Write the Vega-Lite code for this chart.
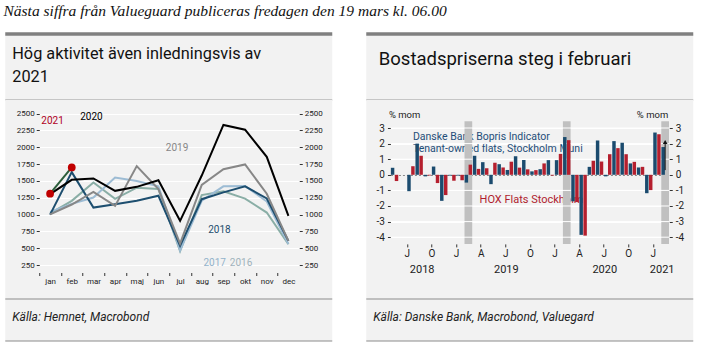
{
  "$schema": "https://vega.github.io/schema/vega-lite/v6.json",
  "background": "white",
  "padding": {"left": 3.25, "top": 4, "right": 5, "bottom": 5},
  "title": {"text": "Nästa siffra från Valueguard publiceras fredagen den 19 mars kl. 06.00", "anchor": "start", "frame": "bounds", "font": "Liberation Serif", "fontStyle": "italic", "fontWeight": "normal", "fontSize": 15.5, "color": "#111111", "offset": 12.5},
  "spacing": 30,
  "resolve": {"scale": {"color": "independent"}},
  "hconcat": [
    {
      "vconcat": [
        {
          "width": 327, "height": 66,
          "data": {"values": [{}]},
          "layer": [
            {"mark": {"type": "rule", "color": "#808080", "strokeWidth": 3.5}, "encoding": {"y": {"datum": 1, "type": "quantitative", "scale": {"domain": [0, 1]}, "axis": null}}},
            {"mark": {"type": "rule", "color": "#9a9a9a", "strokeWidth": 1}, "encoding": {"y": {"datum": 0, "type": "quantitative", "axis": null}}},
            {"mark": {"type": "text", "align": "left", "baseline": "alphabetic", "fontSize": 16.3, "lineHeight": 23, "color": "#111111", "dx": 7},
             "encoding": {"x": {"datum": 0, "type": "quantitative", "scale": {"domain": [0, 1]}, "axis": null}, "y": {"datum": 0.62, "type": "quantitative", "axis": null}, "text": {"value": ["Hög aktivitet även inledningsvis av", "2021"]}}}
          ]
        },
        {
          "width": 327, "height": 199,
          "data": {"values": [
            {"month": "jan", "2016": 1020, "2017": 1040, "2018": 1000, "2019": 1005, "2020": 1303, "2021": 1310},
            {"month": "feb", "2016": 1205, "2017": 1160, "2018": 1630, "2019": 1150, "2020": 1516, "2021": 1700},
            {"month": "mar", "2016": 1476, "2017": 1254, "2018": 1105, "2019": 1338, "2020": 1536},
            {"month": "apr", "2016": 1235, "2017": 1550, "2018": 1155, "2019": 1130, "2020": 1353},
            {"month": "maj", "2016": 1400, "2017": 1500, "2018": 1205, "2019": 1720, "2020": 1412},
            {"month": "jun", "2016": 1380, "2017": 1420, "2018": 1280, "2019": 1380, "2020": 1511},
            {"month": "jul", "2016": 460, "2017": 470, "2018": 537, "2019": 570, "2020": 908},
            {"month": "aug", "2016": 1290, "2017": 1206, "2018": 1229, "2019": 1442, "2020": 1580},
            {"month": "sep", "2016": 1345, "2017": 1420, "2018": 1330, "2019": 1674, "2020": 2330},
            {"month": "okt", "2016": 1237, "2017": 1425, "2018": 1420, "2019": 1745, "2020": 2260},
            {"month": "nov", "2016": 1031, "2017": 1194, "2018": 1240, "2019": 1310, "2020": 1857},
            {"month": "dec", "2016": 560, "2017": 565, "2018": 611, "2019": 610, "2020": 982}
          ]},
          "transform": [{"fold": ["2016", "2017", "2018", "2019", "2020", "2021"], "as": ["year", "value"]}],
          "resolve": {"axis": {"x": "independent", "y": "independent"}},
          "layer": [
            {
              "mark": {"type": "line", "strokeWidth": 2},
              "encoding": {
                "x": {"field": "month", "type": "ordinal", "scale": {"domain": ["jan", "feb", "mar", "apr", "maj", "jun", "jul", "aug", "sep", "okt", "nov", "dec"], "range": [34, 294], "paddingInner": 0, "paddingOuter": 0},
                      "axis": {"orient": "bottom", "offset": -26.5, "tickOffset": -10.83, "labelOffset": 10.83, "tickSize": 3, "labelPadding": 2, "labelFontSize": 8, "labelAngle": 0, "labelOverlap": false, "domain": false, "grid": false, "title": null}},
                "y": {"field": "value", "type": "quantitative", "scale": {"domain": [250, 2500], "range": [165.2, 13.5], "nice": false, "zero": false},
                      "axis": {"orient": "left", "offset": -34, "values": [250, 500, 750, 1000, 1250, 1500, 1750, 2000, 2250, 2500], "format": "d", "tickSize": 3, "labelPadding": 2, "labelFontSize": 8, "grid": true, "gridColor": "#ffffff", "gridWidth": 1, "domain": false, "title": null}},
                "color": {"field": "year", "type": "nominal", "scale": {"domain": ["2016", "2017", "2018", "2019", "2020", "2021"], "range": ["#8aaea6", "#9dbcd4", "#1d4e6f", "#878787", "#000000", "#2c5e3b"]}, "legend": null}
              }
            },
            {
              "transform": [{"filter": "datum.year === '2021' && isValid(datum.value)"}],
              "mark": {"type": "point", "filled": true, "size": 60, "color": "#c00000", "opacity": 1},
              "encoding": {
                "x": {"field": "month", "type": "ordinal", "axis": null},
                "y": {"field": "value", "type": "quantitative",
                      "axis": {"orient": "right", "offset": -33, "values": [250, 500, 750, 1000, 1250, 1500, 1750, 2000, 2250, 2500], "format": "d", "tickSize": 3, "labelPadding": 2, "labelFontSize": 8, "grid": false, "domain": false, "title": null}}
              }
            },
            {"data": {"values": [{}]}, "mark": {"type": "text", "fontSize": 10, "color": "#b0001e", "dx": 2.5}, "encoding": {"x": {"datum": "jan", "type": "ordinal", "axis": null}, "y": {"datum": 2396, "type": "quantitative", "axis": null}, "text": {"value": "2021"}}},
            {"data": {"values": [{}]}, "mark": {"type": "text", "fontSize": 10, "color": "#000000", "dx": -2}, "encoding": {"x": {"datum": "mar", "type": "ordinal", "axis": null}, "y": {"datum": 2455, "type": "quantitative", "axis": null}, "text": {"value": "2020"}}},
            {"data": {"values": [{}]}, "mark": {"type": "text", "fontSize": 10, "color": "#878787", "dx": -3}, "encoding": {"x": {"datum": "jul", "type": "ordinal", "axis": null}, "y": {"datum": 1988, "type": "quantitative", "axis": null}, "text": {"value": "2019"}}},
            {"data": {"values": [{}]}, "mark": {"type": "text", "fontSize": 10, "color": "#1d4e6f", "dx": -4}, "encoding": {"x": {"datum": "sep", "type": "ordinal", "axis": null}, "y": {"datum": 774, "type": "quantitative", "axis": null}, "text": {"value": "2018"}}},
            {"data": {"values": [{}]}, "mark": {"type": "text", "fontSize": 10, "color": "#93b3cb", "dx": -8.7}, "encoding": {"x": {"datum": "sep", "type": "ordinal", "axis": null}, "y": {"datum": 289, "type": "quantitative", "axis": null}, "text": {"value": "2017"}}},
            {"data": {"values": [{}]}, "mark": {"type": "text", "fontSize": 10, "color": "#a0b2bc", "dx": -4}, "encoding": {"x": {"datum": "okt", "type": "ordinal", "axis": null}, "y": {"datum": 289, "type": "quantitative", "axis": null}, "text": {"value": "2016"}}}
          ]
        },
        {
          "width": 327, "height": 42,
          "data": {"values": [{}]},
          "layer": [
            {"mark": {"type": "rule", "color": "#8c8c8c", "strokeWidth": 1}, "encoding": {"y": {"datum": 1, "type": "quantitative", "scale": {"domain": [0, 1]}, "axis": null}}},
            {"mark": {"type": "rule", "color": "#8c8c8c", "strokeWidth": 1}, "encoding": {"y": {"datum": 0, "type": "quantitative", "axis": null}}},
            {"mark": {"type": "text", "align": "left", "baseline": "middle", "fontSize": 12, "fontStyle": "italic", "color": "#222222", "dx": 7},
             "encoding": {"x": {"datum": 0, "type": "quantitative", "scale": {"domain": [0, 1]}, "axis": null}, "y": {"datum": 0.56, "type": "quantitative", "axis": null}, "text": {"value": "Källa: Hemnet, Macrobond"}}}
          ]
        }
      ],
      "spacing": 0,
      "bounds": "flush"
    },
    {
      "vconcat": [
        {
          "width": 327, "height": 66,
          "data": {"values": [{}]},
          "layer": [
            {"mark": {"type": "rule", "color": "#808080", "strokeWidth": 3.5}, "encoding": {"y": {"datum": 1, "type": "quantitative", "scale": {"domain": [0, 1]}, "axis": null}}},
            {"mark": {"type": "rule", "color": "#9a9a9a", "strokeWidth": 1}, "encoding": {"y": {"datum": 0, "type": "quantitative", "axis": null}}},
            {"mark": {"type": "text", "align": "left", "baseline": "alphabetic", "fontSize": 18.5, "color": "#111111", "dx": 12.5},
             "encoding": {"x": {"datum": 0, "type": "quantitative", "scale": {"domain": [0, 1]}, "axis": null}, "y": {"datum": 0.53, "type": "quantitative", "axis": null}, "text": {"value": "Bostadspriserna steg i februari"}}}
          ]
        },
        {
          "width": 327, "height": 199,
          "resolve": {"axis": {"x": "independent", "y": "independent"}},
          "layer": [
            {"data": {"values": [{}]}, "mark": {"type": "text", "align": "left", "baseline": "middle", "fontSize": 10.5, "lineHeight": 11.5, "color": "#1f4e79", "dx": 2},
             "encoding": {"x": {"datum": "2018-07", "type": "ordinal", "axis": null}, "y": {"datum": 2.41, "type": "quantitative", "axis": null}, "text": {"value": ["Danske Bank Bopris Indicator", "Tenant-owned flats, Stockholm Muni"]}}},
            {"data": {"values": [{}]}, "mark": {"type": "text", "align": "left", "baseline": "middle", "fontSize": 11, "color": "#b01c2e", "dx": 3},
             "encoding": {"x": {"datum": "2019-03", "type": "ordinal", "axis": null}, "y": {"datum": -1.62, "type": "quantitative", "axis": null}, "text": {"value": "HOX Flats Stockholm"}}},
            {
              "data": {"values": [{"month": "2019-02"}, {"month": "2020-02"}, {"month": "2021-02"}]},
              "mark": {"type": "bar", "color": "#c0c0c0"},
              "encoding": {
                "x": {"field": "month", "type": "ordinal",
                      "scale": {"domain": ["2018-05","2018-06","2018-07","2018-08","2018-09","2018-10","2018-11","2018-12","2019-01","2019-02","2019-03","2019-04","2019-05","2019-06","2019-07","2019-08","2019-09","2019-10","2019-11","2019-12","2020-01","2020-02","2020-03","2020-04","2020-05","2020-06","2020-07","2020-08","2020-09","2020-10","2020-11","2020-12","2021-01","2021-02"], "range": [24.2, 303], "paddingInner": 0.06, "paddingOuter": 0.03},
                      "axis": {"orient": "bottom", "offset": -55.1, "values": ["2018-08", "2019-07", "2020-07", "2021-02"], "labelExpr": "substring(datum.value, 0, 4)", "ticks": false, "tickSize": 0, "labelPadding": 20, "labelFontSize": 11, "labelAngle": 0, "labelOverlap": false, "domain": false, "grid": false, "title": null,
                               "labelOffset": {"condition": {"test": "datum.value == '2018-08'", "value": 3}, "value": -3}}},
                "y": {"datum": 3.43, "type": "quantitative", "scale": {"domain": [-4.43, 3.43], "range": [143.9, 21.3], "nice": false, "zero": false},
                      "axis": {"orient": "right", "offset": -24, "values": [-4, -3, -2, -1, 0, 1, 2, 3], "labelExpr": "'' + datum.value", "tickSize": 3, "labelPadding": 3, "labelFontSize": 10, "grid": false, "domain": false,
                               "title": "% mom", "titleAngle": 0, "titleAlign": "right", "titleBaseline": "middle", "titleX": -1.5, "titleY": 14.5, "titleFontSize": 9.5, "titleFontWeight": "normal", "titleColor": "#222222"}},
                "y2": {"datum": -4.43}
              }
            },
            {
              "data": {"values": [{"g": -4}, {"g": -3}, {"g": -2}, {"g": -1}, {"g": 1}, {"g": 2}, {"g": 3}]},
              "mark": {"type": "rule", "color": "#ffffff", "strokeWidth": 1},
              "encoding": {
                "x": {"datum": "2018-05", "type": "ordinal", "bandPosition": 0, "axis": null},
                "x2": {"datum": "2021-02", "bandPosition": 1},
                "y": {"field": "g", "type": "quantitative", "axis": null}
              }
            },
            {
              "data": {"values": [
                {"month": "2018-05", "db": 0.45, "hox": -0.4},
                {"month": "2018-06", "db": 0, "hox": 0},
                {"month": "2018-07", "db": -1.05, "hox": 0.55},
                {"month": "2018-08", "db": 2.0, "hox": 1.22},
                {"month": "2018-09", "db": -0.1, "hox": -0.05},
                {"month": "2018-10", "db": 0.53, "hox": -0.53},
                {"month": "2018-11", "db": -1.67, "hox": -1.3},
                {"month": "2018-12", "db": -0.05, "hox": -0.38},
                {"month": "2019-01", "db": -0.05, "hox": -0.35},
                {"month": "2019-02", "db": -0.5, "hox": 0.65},
                {"month": "2019-03", "db": 1.22, "hox": 0.38},
                {"month": "2019-04", "db": 0.81, "hox": 0.42},
                {"month": "2019-05", "db": -0.6, "hox": 0.78},
                {"month": "2019-06", "db": 0.68, "hox": 0.47},
                {"month": "2019-07", "db": 0.31, "hox": 0.84},
                {"month": "2019-08", "db": 1.19, "hox": 0.46},
                {"month": "2019-09", "db": 0.95, "hox": 0.35},
                {"month": "2019-10", "db": 0.22, "hox": 0.3},
                {"month": "2019-11", "db": 0.36, "hox": 0.73},
                {"month": "2019-12", "db": 0.94, "hox": -0.05},
                {"month": "2020-01", "db": 0.94, "hox": 1.34},
                {"month": "2020-02", "db": 2.42, "hox": 2.22},
                {"month": "2020-03", "db": -1.7, "hox": -1.75},
                {"month": "2020-04", "db": -3.85, "hox": -3.9},
                {"month": "2020-05", "db": 0.51, "hox": 0.9},
                {"month": "2020-06", "db": 2.2, "hox": 0.85},
                {"month": "2020-07", "db": -0.1, "hox": 1.32},
                {"month": "2020-08", "db": 2.16, "hox": 1.71},
                {"month": "2020-09", "db": 2.05, "hox": 1.32},
                {"month": "2020-10", "db": 0.73, "hox": 0.83},
                {"month": "2020-11", "db": 0.47, "hox": 0.51},
                {"month": "2020-12", "db": -1.18, "hox": -0.98},
                {"month": "2021-01", "db": 2.71, "hox": 2.6},
                {"month": "2021-02", "db": 1.78, "hox": null}
              ]},
              "transform": [{"fold": ["db", "hox"], "as": ["series", "value"]}],
              "mark": {"type": "bar"},
              "encoding": {
                "x": {"field": "month", "type": "ordinal",
                      "axis": {"orient": "bottom", "offset": -55.1, "values": ["2018-07", "2018-10", "2019-01", "2019-04", "2019-07", "2019-10", "2020-01", "2020-04", "2020-07", "2020-10", "2021-01"], "tickOffset": -4.1,
                               "labelExpr": "substring(datum.value, 5, 7) == '04' ? 'A' : (substring(datum.value, 5, 7) == '10' ? 'O' : 'J')", "tickSize": 3, "labelPadding": 2, "labelFontSize": 10, "labelAngle": 0, "labelOverlap": false, "domain": false, "grid": false, "title": null}},
                "xOffset": {"field": "series", "type": "nominal", "scale": {"domain": ["db", "hox"], "paddingInner": 0.12, "paddingOuter": 0.04}},
                "y": {"field": "value", "type": "quantitative",
                      "axis": {"orient": "left", "offset": -24.2, "values": [-4, -3, -2, -1, 0, 1, 2, 3], "labelExpr": "'' + datum.value", "tickSize": 3, "labelPadding": 3, "labelFontSize": 10, "domain": false,
                               "grid": true, "gridWidth": 1,
                               "gridColor": {"condition": {"test": "datum.value === 0", "value": "#8a8a8a"}, "value": "#ffffff"},
                               "gridDash": {"condition": {"test": "datum.value === 0", "value": [2, 2]}, "value": []},
                               "title": "% mom", "titleAngle": 0, "titleAlign": "left", "titleBaseline": "middle", "titleX": -2, "titleY": 14.5, "titleFontSize": 9.5, "titleFontWeight": "normal", "titleColor": "#222222"}},
                "color": {"field": "series", "type": "nominal", "scale": {"domain": ["db", "hox"], "range": ["#1b4b6e", "#b51f2e"]}, "legend": null}
              }
            },
            {
              "data": {"values": [{"month": "2021-02", "from": 0.3, "to": 2.1}]},
              "mark": {"type": "rule", "color": "#111111", "strokeWidth": 1},
              "encoding": {"x": {"field": "month", "type": "ordinal", "axis": null}, "y": {"field": "from", "type": "quantitative", "axis": null}, "y2": {"field": "to"}}
            },
            {
              "data": {"values": [{"month": "2021-02", "from": 0.3, "to": 2.1}]},
              "mark": {"type": "point", "shape": "triangle-up", "filled": true, "size": 22, "color": "#111111", "opacity": 1},
              "encoding": {"x": {"field": "month", "type": "ordinal", "axis": null}, "y": {"field": "to", "type": "quantitative", "axis": null}}
            }
          ]
        },
        {
          "width": 327, "height": 42,
          "data": {"values": [{}]},
          "layer": [
            {"mark": {"type": "rule", "color": "#8c8c8c", "strokeWidth": 1}, "encoding": {"y": {"datum": 1, "type": "quantitative", "scale": {"domain": [0, 1]}, "axis": null}}},
            {"mark": {"type": "rule", "color": "#8c8c8c", "strokeWidth": 1}, "encoding": {"y": {"datum": 0, "type": "quantitative", "axis": null}}},
            {"mark": {"type": "text", "align": "left", "baseline": "middle", "fontSize": 12, "fontStyle": "italic", "color": "#222222", "dx": 7},
             "encoding": {"x": {"datum": 0, "type": "quantitative", "scale": {"domain": [0, 1]}, "axis": null}, "y": {"datum": 0.56, "type": "quantitative", "axis": null}, "text": {"value": "Källa: Danske Bank, Macrobond, Valuegard"}}}
          ]
        }
      ],
      "spacing": 0,
      "bounds": "flush"
    }
  ],
  "config": {
    "view": {"fill": "#f2f2f2", "stroke": null},
    "font": "Roboto",
    "axis": {"labelFont": "Roboto", "titleFont": "Roboto", "labelColor": "#222222", "tickColor": "#333333"},
    "text": {"font": "Roboto"}
  }
}
